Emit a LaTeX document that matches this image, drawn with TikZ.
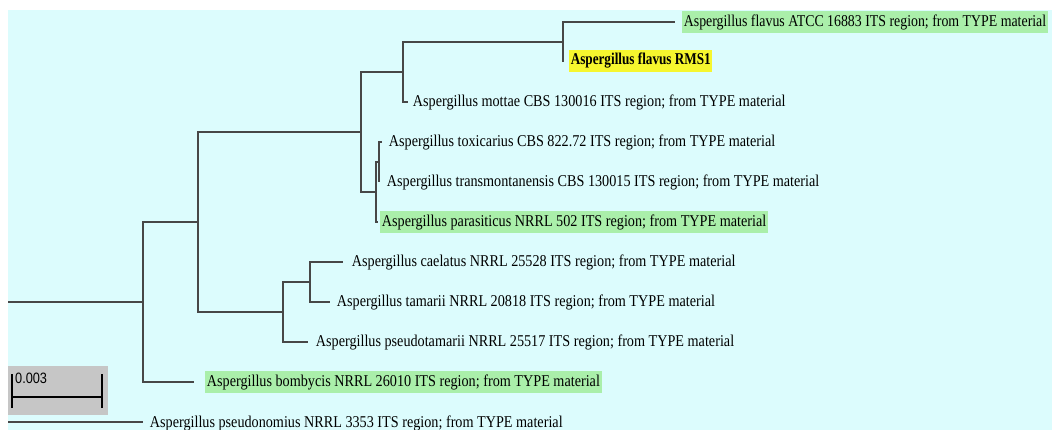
\documentclass[tikz,border=0pt]{standalone}
\usepackage{fontspec}
\setmainfont{Liberation Serif}
\newfontfamily\barfont{Liberation Sans}
\definecolor{bg}{HTML}{DCFCFD}
\definecolor{hlgreen}{HTML}{AAEFAA}
\definecolor{hlyellow}{HTML}{F6F62E}
\definecolor{brc}{HTML}{474747}
\definecolor{sbgrey}{HTML}{C6C6C6}
\begin{document}
\begin{tikzpicture}[x=1pt,y=-1pt,
  br/.style={draw=brc,line width=1.6pt},
  lab/.style={anchor=west,inner xsep=2pt,inner ysep=0pt,minimum height=22pt,xscale=0.86,
    font=\fontsize{16.5}{19}\selectfont,text=black},
  hlg/.style={lab,fill=hlgreen},
  hly/.style={lab,fill=hlyellow},
  sbline/.style={draw=black,line width=1.8pt}]
\clip (0,0) rectangle (1052,430);
\fill[white] (0,0) rectangle (1052,430);
\fill[bg] (8,10) rectangle (1052,430);

% leaf tips
\coordinate (t1) at (675,22);
\coordinate (t2) at (563,62);
\coordinate (t3) at (408,102);
\coordinate (t4) at (382,142);
\coordinate (t5) at (379,182);
\coordinate (t6) at (378,222);
\coordinate (t7) at (343,262);
\coordinate (t8) at (330,302);
\coordinate (t9) at (308,342);
\coordinate (t10) at (194,382);
\coordinate (t11) at (143,422);
% internal nodes
\coordinate (N1) at (563,42);
\coordinate (N2) at (403,72);
\coordinate (N3) at (379,162);
\coordinate (N4) at (376,192);
\coordinate (N5) at (361,132);
\coordinate (N6) at (310,282);
\coordinate (N7) at (283,312);
\coordinate (N8) at (198,222);
\coordinate (N9) at (143,302);
\coordinate (r1) at (8,302);
\coordinate (r2) at (8,422);

% labels
\node[hlg,xscale=0.84/0.86] (L1) at (682,22) {Aspergillus flavus ATCC 16883 ITS region; from TYPE material};
\node[hly,xscale=0.80/0.86,font=\fontsize{16.5}{19}\selectfont\bfseries] (L2) at (569,61) {Aspergillus flavus RMS1};
\node[lab] (L3) at (411,102) {Aspergillus mottae CBS 130016 ITS region; from TYPE material};
\node[lab] (L4) at (387,142) {Aspergillus toxicarius CBS 822.72 ITS region; from TYPE material};
\node[lab] (L5) at (385,182) {Aspergillus transmontanensis CBS 130015 ITS region; from TYPE material};
\node[hlg] (L6) at (380,222) {Aspergillus parasiticus NRRL 502 ITS region; from TYPE material};
\node[lab] (L7) at (350,262) {Aspergillus caelatus NRRL 25528 ITS region; from TYPE material};
\node[lab] (L8) at (335,302) {Aspergillus tamarii NRRL 20818 ITS region; from TYPE material};
\node[lab] (L9) at (314,342) {Aspergillus pseudotamarii NRRL 25517 ITS region; from TYPE material};
\node[hlg] (L10) at (205,382) {Aspergillus bombycis NRRL 26010 ITS region; from TYPE material};
\node[lab] (L11) at (148,423) {Aspergillus pseudonomius NRRL 3353 ITS region; from TYPE material};

% branches
\draw[br] (N1) |- (t1);
\draw[br] (N1) |- (t2);
\draw[br] (N2) |- (N1);
\draw[br] (N2) |- (t3);
\draw[br] (N3) |- (t4);
\draw[br] (N3) |- (t5);
\draw[br] (N4) |- (N3);
\draw[br] (N4) |- (t6);
\draw[br] (N5) |- (N2);
\draw[br] (N5) |- (N4);
\draw[br] (N6) |- (t7);
\draw[br] (N6) |- (t8);
\draw[br] (N7) |- (N6);
\draw[br] (N7) |- (t9);
\draw[br] (N8) |- (N5);
\draw[br] (N8) |- (N7);
\draw[br] (N9) |- (N8);
\draw[br] (N9) |- (t10);
\draw[br] (r1) -- (N9);
\draw[br] (r2) -- (t11);

% scale bar
\fill[sbgrey] (8,366) rectangle (108,415);
\coordinate (sbA) at (12,397);
\coordinate (sbB) at (102,397);
\coordinate (sbAt) at (12,374);
\coordinate (sbAb) at (12,408);
\coordinate (sbBt) at (102,374);
\coordinate (sbBb) at (102,408);
\draw[sbline] (sbA) -- (sbB);
\draw[sbline] (sbAt) -- (sbAb);
\draw[sbline] (sbBt) -- (sbBb);
\node[anchor=west,inner sep=0pt,xscale=0.85,font=\barfont\fontsize{15}{18}\selectfont] (sbl) at (15,378) {0.003};
\end{tikzpicture}
\end{document}
